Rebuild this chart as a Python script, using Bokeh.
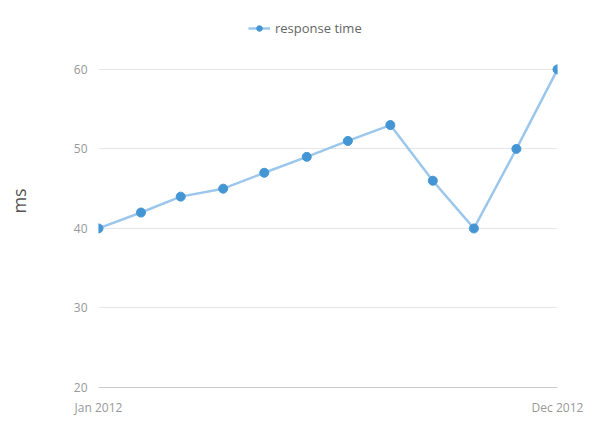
from datetime import datetime
from bokeh.plotting import figure
from bokeh.models import FixedTicker, DatetimeTickFormatter, Legend, LegendItem, Range1d
from bokeh.embed import file_html
from bokeh.resources import INLINE

months = ["2012-01", "2012-02", "2012-03", "2012-04", "2012-05", "2012-06",
          "2012-07", "2012-08", "2012-09", "2012-10", "2012-11", "2012-12"]
response_ms = [40, 42, 44, 45, 47, 49, 51, 53, 46, 40, 50, 60]
series_name = "response time"
y_ticks = [20, 30, 40, 50, 60]

dates = [datetime.strptime(m, "%Y-%m") for m in months]

p = figure(width=605, height=419, x_axis_type="datetime",
           output_backend="svg", toolbar_location=None,
           min_border_left=98, min_border_right=48, min_border_top=14, min_border_bottom=32)
p.y_range = Range1d(20, 66.9)
p.x_range = Range1d(dates[0], dates[-1])

line = p.line(dates, response_ms, line_color="#9cc7ec", line_width=2.5)
pts = p.scatter(dates, response_ms, size=9, fill_color="#4396d3", line_color="#4396d3")

legend = Legend(items=[LegendItem(label=series_name, renderers=[line, pts])],
                orientation="horizontal", location=(150, 350),
                border_line_color=None, background_fill_alpha=0,
                label_text_color="#666666",
                label_text_font="Open Sans", label_text_font_size="13px",
                glyph_width=22, glyph_height=14, margin=0)
p.add_layout(legend)

p.yaxis.ticker = FixedTicker(ticks=y_ticks)
p.xaxis.ticker = FixedTicker(ticks=[dates[0].timestamp() * 1000, dates[-1].timestamp() * 1000])
p.xaxis.formatter = DatetimeTickFormatter(months="%b %Y", days="%b %Y", years="%b %Y")
p.yaxis.axis_label = "ms"
p.yaxis.axis_label_text_font = "Open Sans"
p.yaxis.axis_label_text_font_style = "normal"
p.yaxis.axis_label_text_font_size = "18px"
p.yaxis.axis_label_text_color = "#555555"
p.yaxis.axis_label_standoff = 40

for ax in (p.xaxis, p.yaxis):
    ax.axis_line_color = None
    ax.major_tick_line_color = None
    ax.minor_tick_line_color = None
    ax.major_label_text_color = "#999999"
    ax.major_label_text_font = "Open Sans"
    ax.major_label_text_font_size = "12px"
p.xaxis.axis_line_color = "#cccccc"

p.xgrid.grid_line_color = None
p.ygrid.grid_line_color = "#e6e6e6"
p.outline_line_color = None

open("out.html", "w").write(file_html(p, INLINE))
